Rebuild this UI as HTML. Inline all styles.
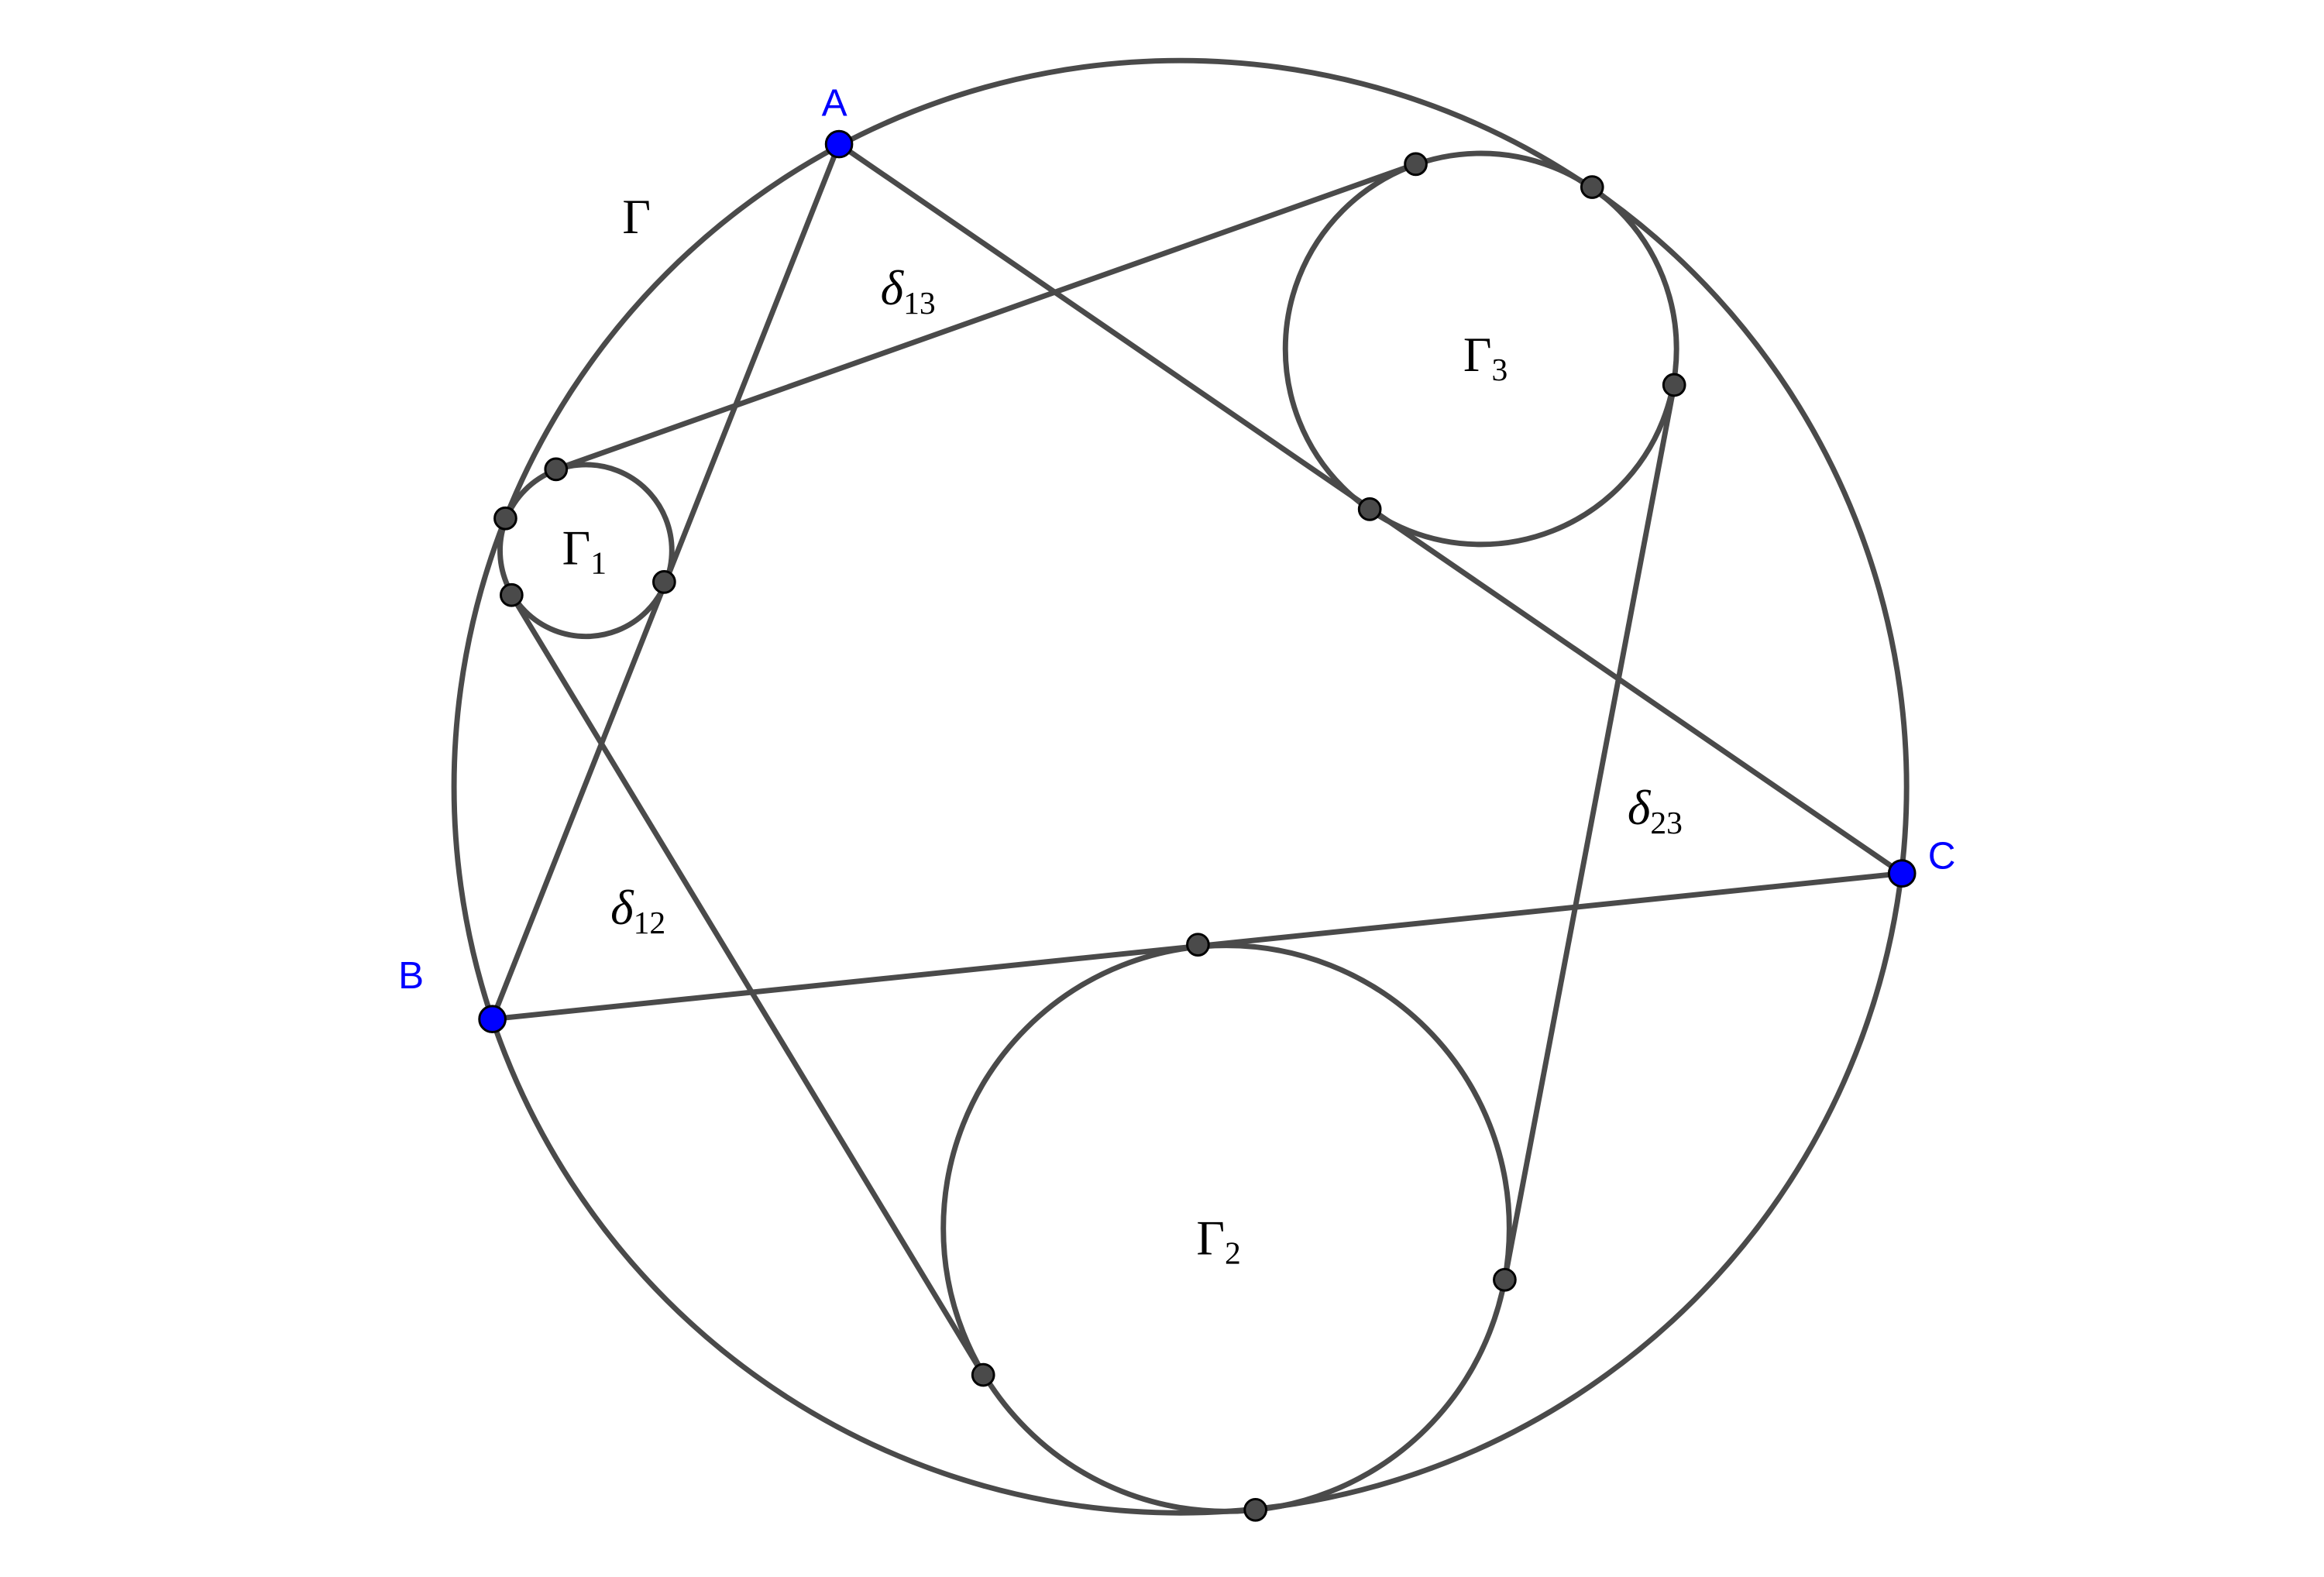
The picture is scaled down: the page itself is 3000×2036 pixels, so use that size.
<!DOCTYPE html>
<html><head><meta charset="utf-8"><style>html,body{margin:0;padding:0;background:#fff}svg{display:block}</style></head>
<body>
<svg width="3000" height="2036" viewBox="0 0 3000 2036" xmlns="http://www.w3.org/2000/svg">
<g transform="translate(2,-1) scale(0.99)">
<g fill="none" stroke="#4a4a4a" stroke-width="7">
<circle cx="1537" cy="1027" r="947"/>
<circle cx="762" cy="719" r="112"/>
<circle cx="1929" cy="456" r="255"/>
<circle cx="1597" cy="1603" r="369"/>
<line x1="1092" y1="189" x2="640" y2="1330"/>
<line x1="1092" y1="189" x2="2478" y2="1140"/>
<line x1="640" y1="1330" x2="2478" y2="1140"/>
<line x1="723" y1="613" x2="1844" y2="215"/>
<line x1="665" y1="777" x2="1280" y2="1794"/>
<line x1="2181" y1="503" x2="1960" y2="1670"/>
</g>
<g fill="#4a4a4a" stroke="#000" stroke-width="3">
<circle cx="1844" cy="215" r="14"/><circle cx="2074" cy="245" r="14"/>
<circle cx="2181" cy="503" r="14"/><circle cx="1784" cy="665" r="14"/>
<circle cx="723" cy="613" r="14"/><circle cx="657" cy="677" r="14"/>
<circle cx="665" cy="777" r="14"/><circle cx="864" cy="760" r="14"/>
<circle cx="1560" cy="1233" r="14"/><circle cx="1960" cy="1670" r="14"/>
<circle cx="1280" cy="1794" r="14"/><circle cx="1635" cy="1970" r="14"/>
</g>
<g fill="#0000ff" stroke="#000" stroke-width="3">
<circle cx="1092" cy="189" r="17"/><circle cx="640" cy="1330" r="17"/><circle cx="2478" cy="1140" r="17"/>
</g>
<g font-family="Liberation Sans, sans-serif" font-size="50" fill="#0000ff" text-anchor="middle">
<text x="1086" y="152">A</text><text x="534" y="1290">B</text><text x="2530" y="1134">C</text>
</g>
<g font-family="Liberation Serif, serif" font-size="64" fill="#000" text-anchor="middle">
<text x="828" y="305">Γ</text>
<text x="1182" y="398"><tspan font-style="italic">δ</tspan><tspan font-size="42" dy="12">13</tspan></text>
<text x="1935" y="485">Γ<tspan font-size="42" dy="12">3</tspan></text>
<text x="760" y="737">Γ<tspan font-size="42" dy="12">1</tspan></text>
<text x="830" y="1206"><tspan font-style="italic">δ</tspan><tspan font-size="42" dy="12">12</tspan></text>
<text x="2156" y="1076"><tspan font-style="italic">δ</tspan><tspan font-size="42" dy="12">23</tspan></text>
<text x="1587" y="1637">Γ<tspan font-size="42" dy="12">2</tspan></text>
</g>
</g>
</svg>
</body></html>
